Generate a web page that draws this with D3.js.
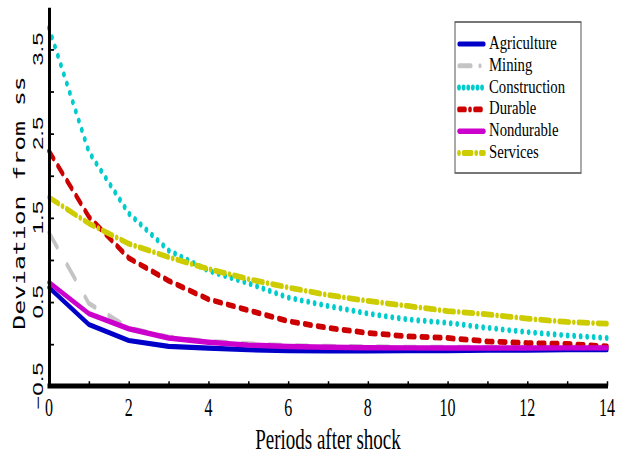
<!DOCTYPE html>
<html>
<head>
<meta charset="utf-8">
<script src="https://cdn.jsdelivr.net/npm/d3@7"></script>
<style>
  html, body { margin: 0; padding: 0; background: #fff; }
  svg { display: block; }
</style>
</head>
<body>
<div id="chart"></div>
<script>
// Impulse responses by sector, periods 0..14
const periods = [0, 1, 2, 3, 4, 5, 6, 7, 8, 9, 10, 11, 12, 13, 14];

const agriculture  = [0.67, 0.23, 0.04, -0.03, -0.05, -0.07, -0.08, -0.085, -0.085, -0.08, -0.08, -0.075, -0.075, -0.07, -0.07];
const mining       = [1.32, 0.48, 0.19, 0.08, 0.03, 0.0, -0.02, -0.03, -0.035, -0.04, -0.04, -0.04, -0.04, -0.04, -0.04];
const construction = [3.75, 2.28, 1.55, 1.11, 0.87, 0.72, 0.55, 0.45, 0.36, 0.29, 0.25, 0.19, 0.14, 0.10, 0.07];
const durable      = [2.29, 1.51, 1.02, 0.75, 0.53, 0.40, 0.27, 0.19, 0.13, 0.09, 0.07, 0.03, 0.01, 0.0, -0.03];
const nondurable   = [0.73, 0.36, 0.18, 0.07, 0.02, -0.015, -0.03, -0.04, -0.045, -0.047, -0.048, -0.048, -0.048, -0.047, -0.047];
const services     = [1.74, 1.43, 1.19, 1.03, 0.89, 0.77, 0.67, 0.58, 0.51, 0.45, 0.39, 0.35, 0.30, 0.26, 0.24];

const seriesNames = ["Agriculture", "Mining", "Construction", "Durable", "Nondurable", "Services"];
const seriesValues = [agriculture, mining, construction, durable, nondurable, services];

const xTickValues = [0, 1, 2, 3, 4, 5, 6, 7, 8, 9, 10, 11, 12, 13, 14];
const xTickLabelValues = [0, 2, 4, 6, 8, 10, 12, 14];
const yTickValues = [-0.5, 0, 0.5, 1, 1.5, 2, 2.5, 3, 3.5];
const yTickLabelValues = [-0.5, 0.5, 1.5, 2.5, 3.5];
const yTickLabels = ["\u22120.5", "0.5", "1.5", "2.5", "3.5"];

// Line styles per series (colour, width, dash pattern in drawing units)
const styles = [
  { color: "#0000c8", width: 3.2, dash: null,              legendDash: null },
  { color: "#c4c4c4", width: 3.2, dash: "12,15",           legendDash: "12,9,0.01,9" },
  { color: "#00cccc", width: 3.8, dash: "0.01,6.5",        legendDash: "0.01,4.6" },
  { color: "#cc0000", width: 3.6, dash: "6.5,6.5",         legendDash: "6,5,0.01,5" },
  { color: "#cc00cc", width: 3.4, dash: null,              legendDash: null },
  { color: "#cccc00", width: 3.6, dash: "10,4.6,0.01,4.6", legendDash: "0.01,4.6,8,4.6" }
];

// The figure is drawn in a coordinate space that is stretched vertically
const W = 626, H = 460, S = 1.6;
const VH = H / S;
const v = px => px / S;   // screen-pixel height -> drawing units

const svg = d3.select("#chart").append("svg")
  .attr("width", W).attr("height", H)
  .attr("viewBox", `0 0 ${W} ${VH}`)
  .attr("preserveAspectRatio", "none");

const x = d3.scaleLinear().domain([0, 14]).range([49, 607]);
const y = d3.scaleLinear().domain([-0.5, 4]).range([v(386), v(7)]);

// Series lines
const line = d3.line().x((d, i) => x(periods[i])).y(d => y(d));
const lines = svg.append("g");
seriesValues.forEach((vals, i) => {
  const st = styles[i];
  lines.append("path")
    .datum(vals)
    .attr("d", line)
    .attr("fill", "none")
    .attr("stroke", st.color)
    .attr("stroke-width", st.width)
    .attr("stroke-linecap", "round")
    .attr("stroke-linejoin", "round")
    .attr("stroke-dasharray", st.dash);
});

// Axes
const yAxis = svg.append("g")
  .attr("transform", `translate(${x(0)},0)`)
  .call(d3.axisLeft(y).tickValues(yTickValues).tickSizeInner(-5).tickSizeOuter(0).tickFormat(""));
yAxis.select(".domain").attr("stroke", "#000").attr("stroke-width", 3);
yAxis.selectAll(".tick line").attr("stroke", "#000").attr("stroke-width", 1.1);

const xAxis = svg.append("g")
  .attr("transform", `translate(0,${y(-0.5)})`)
  .call(d3.axisBottom(x).tickValues(xTickValues).tickSizeInner(-3).tickSizeOuter(0).tickFormat(""));
xAxis.select(".domain").attr("stroke", "#000").attr("stroke-width", 3)
  .attr("d", `M${x(0) - 1.5},0H${x(14) + 1}`);
xAxis.selectAll(".tick line").attr("stroke", "#000").attr("stroke-width", 1.5);

// X tick labels
svg.append("g").selectAll("text")
  .data(xTickLabelValues)
  .join("text")
  .attr("x", d => x(d))
  .attr("y", v(416))
  .attr("text-anchor", "middle")
  .attr("font-family", "'Liberation Serif', serif")
  .attr("font-size", 16)
  .attr("fill", "#000")
  .text(d => d);

// Y tick labels (rotated)
svg.append("g").selectAll("text")
  .data(yTickLabelValues)
  .join("text")
  .attr("transform", d => `translate(43,${y(d)}) rotate(-90)`)
  .attr("text-anchor", "middle")
  .attr("font-family", "'Liberation Sans', sans-serif")
  .attr("font-size", 15)
  .attr("fill", "#000")
  .text((d, i) => yTickLabels[i]);

// Axis titles
svg.append("text")
  .attr("x", (x(0) + x(14)) / 2)
  .attr("y", v(449))
  .attr("text-anchor", "middle")
  .attr("font-family", "'Liberation Serif', serif")
  .attr("font-size", 19)
  .attr("fill", "#000")
  .text("Periods after shock");

svg.append("text")
  .attr("transform", `translate(25,${v(203)}) rotate(-90)`)
  .attr("text-anchor", "middle")
  .attr("font-family", "'DejaVu Sans Mono', monospace")
  .attr("font-size", 15.5)
  .attr("fill", "#000")
  .text("Deviation from ss");

// Legend
const legend = svg.append("g");
legend.append("rect")
  .attr("x", 455).attr("y", v(22))
  .attr("width", 126).attr("height", v(151))
  .attr("fill", "#fff")
  .attr("stroke", "#555")
  .attr("stroke-width", 1);

seriesNames.forEach((name, i) => {
  const st = styles[i];
  const ry = v(44 + i * 21.8);
  legend.append("line")
    .attr("x1", 459).attr("x2", 484)
    .attr("y1", ry).attr("y2", ry)
    .attr("stroke", st.color)
    .attr("stroke-width", st.width)
    .attr("stroke-linecap", "round")
    .attr("stroke-dasharray", st.legendDash);
  legend.append("text")
    .attr("transform", `translate(489,${ry + v(5)}) scale(1.28,1)`)
    .attr("font-family", "'Liberation Serif', serif")
    .attr("font-size", 11.5)
    .attr("fill", "#000")
    .text(name);
});
</script>
</body>
</html>
